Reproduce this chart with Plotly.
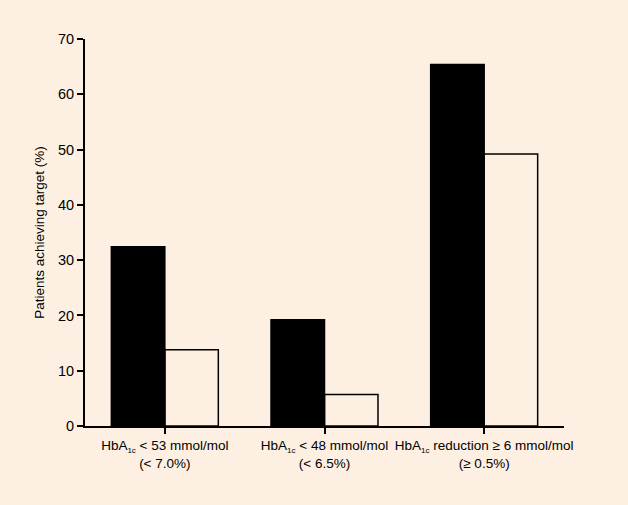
import plotly.graph_objects as go

sub = '<sub><span style="font-size:8px">1c</span></sub>'
categories = ["HbA" + sub + " < 53 mmol/mol<br>(< 7.0%)",
              "HbA" + sub + " < 48 mmol/mol<br>(< 6.5%)",
              "HbA" + sub + " reduction ≥ 6 mmol/mol<br>(≥ 0.5%)"]
series_black = [32.4, 19.2, 65.4]
series_white = [13.8, 5.7, 49.2]
y_ticks = [0, 10, 20, 30, 40, 50, 60, 70]

bg = "#fdf0e2"
fig = go.Figure()
fig.add_trace(go.Bar(x=categories, y=series_black, marker=dict(color="black", line=dict(color="black", width=1.5)), showlegend=False))
fig.add_trace(go.Bar(x=categories, y=series_white, marker=dict(color="rgba(0,0,0,0)", line=dict(color="black", width=1.5)), showlegend=False))

fig.update_layout(
    width=628, height=505,
    paper_bgcolor=bg, plot_bgcolor=bg,
    margin=dict(l=85, r=64, t=39, b=79),
    barmode="group", bargap=0.33, bargroupgap=0,
    font=dict(family="Liberation Sans, Arial, sans-serif", color="black", size=13),
    xaxis=dict(range=[-0.5, 2.5], showline=True, linecolor="black", linewidth=2,
               ticks="outside", ticklen=6, tickwidth=1.5, tickcolor="black",
               tickfont=dict(size=13.5), showgrid=False, zeroline=False),
    yaxis=dict(range=[0, 70], tickvals=y_ticks, showline=True, linecolor="black", linewidth=2,
               ticks="outside", ticklen=6, tickwidth=1.5, tickcolor="black",
               tickfont=dict(size=14.5), showgrid=False, zeroline=False,
               title=dict(text="Patients achieving target (%)", font=dict(size=13.5), standoff=10)),
)
fig.write_html("out.html", config={"displayModeBar": False})
with open("out.html", encoding="utf-8") as f:
    html = f.read()
html = html.replace("<body>", '<body style="margin:0;padding:0;">', 1)
with open("out.html", "w", encoding="utf-8") as f:
    f.write(html)
